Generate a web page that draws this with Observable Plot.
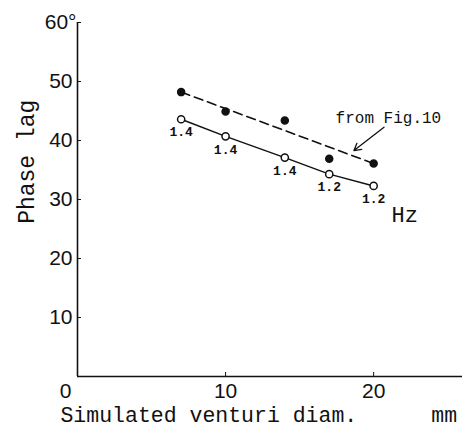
<!DOCTYPE html>
<html>
<head>
<meta charset="utf-8">
<script src="https://cdn.jsdelivr.net/npm/d3@7"></script>
<script src="https://cdn.jsdelivr.net/npm/@observablehq/plot@0.6"></script>
<style>
  html, body { margin: 0; padding: 0; background: #fff; }
</style>
</head>
<body>
<div id="chart"></div>
<script>
// Data
const diam = [7, 10, 14, 17, 20];                      // simulated venturi diameter (mm)
const simLag = [43.6, 40.7, 37.1, 34.3, 32.3];          // open circles, phase lag (deg)
const figLag = [48.2, 44.9, 43.4, 36.9, 36.1];          // filled circles, from Fig.10
const freqLabels = ["1.4", "1.4", "1.4", "1.2", "1.2"]; // Hz
const fitDiam = [7, 20];                                // dashed trend line ends
const fitLag = [48.2, 36.1];
const xTicks = [10, 20];
const yTicks = [10, 20, 30, 40, 50];
const yTopTick = 60;
const arrowTail = [20.7, 42.25];
const arrowHead = [18.67, 38.3];

const sim = diam.map((d, i) => ({x: d, y: simLag[i], f: freqLabels[i]}));
const fig = diam.map((d, i) => ({x: d, y: figLag[i]}));
const fit = fitDiam.map((d, i) => ({x: d, y: fitLag[i]}));

const mono = "Liberation Mono, DejaVu Sans Mono, monospace";

const chart = Plot.plot({
  width: 467,
  height: 430,
  marginLeft: 77,
  marginRight: 5,
  marginTop: 22,
  marginBottom: 54,
  style: {background: "#fff", fontFamily: "Liberation Sans, Arial, sans-serif", color: "#111"},
  x: {domain: [0, 26]},
  y: {domain: [0, 60]},
  marks: [
    // axis lines
    Plot.ruleY([0], {x1: 0, x2: 26, stroke: "#111", strokeWidth: 1.6}),
    Plot.ruleX([0], {y1: 0, y2: 60, stroke: "#111", strokeWidth: 1.6}),
    Plot.axisX(xTicks, {tickSize: -4, tickPadding: 11, fontSize: 21, label: null, stroke: "#111"}),
    Plot.axisY(yTicks.concat([yTopTick]), {tickSize: -4, tickPadding: 9, fontSize: 21, label: null, stroke: "#111", tickFormat: d => d === yTopTick ? "" : String(d)}),
    Plot.text([0], {x: d => d, y: () => 0, text: () => "0", fontSize: 21, lineAnchor: "top", dy: 7, dx: -12, fill: "#111"}),
    Plot.text([yTopTick], {x: () => 0, y: d => d, text: d => d + "°", fontSize: 21, textAnchor: "end", dx: -1, fill: "#111"}),
    // dashed line from Fig.10
    Plot.line(fit, {x: "x", y: "y", stroke: "#111", strokeWidth: 1.6, strokeDasharray: "9,5"}),
    Plot.dot(fig, {x: "x", y: "y", r: 3.5, fill: "#111", stroke: "#111"}),
    // solid line with open circles
    Plot.line(sim, {x: "x", y: "y", stroke: "#111", strokeWidth: 1.5}),
    Plot.dot(sim, {x: "x", y: "y", r: 3.6, fill: "#fff", stroke: "#111", strokeWidth: 1.5}),
    Plot.text(sim, {x: "x", y: "y", text: "f", dy: 13, lineAnchor: "middle", fontSize: 13, fontFamily: mono, fontWeight: "bold", fill: "#111"}),
    // annotation
    Plot.text(["from Fig.10"], {x: () => 17.43, y: () => 43.9, text: d => d, textAnchor: "start", fontSize: 16, fontFamily: mono, fill: "#111"}),
    Plot.arrow([0], {x1: () => arrowTail[0], y1: () => arrowTail[1], x2: () => arrowHead[0], y2: () => arrowHead[1], stroke: "#111", strokeWidth: 1.3, headLength: 9}),
    Plot.text(["Hz"], {x: () => 22.1, y: () => 27.3, text: d => d, fontSize: 22, fontFamily: mono, fill: "#111"}),
    // axis titles
    Plot.text(["Phase lag"], {x: () => -3.45, y: () => 36.4, text: d => d, rotate: -90, fontSize: 23, fontFamily: mono, fill: "#111"}),
    Plot.text(["Simulated venturi diam."], {x: () => -1.15, y: () => -6.5, text: d => d, textAnchor: "start", fontSize: 21.5, fontFamily: mono, fill: "#111"}),
    Plot.text(["mm"], {x: () => 24.76, y: () => -6.5, text: d => d, fontSize: 21.5, fontFamily: mono, fill: "#111"})
  ]
});
document.getElementById("chart").append(chart);
</script>
</body>
</html>
